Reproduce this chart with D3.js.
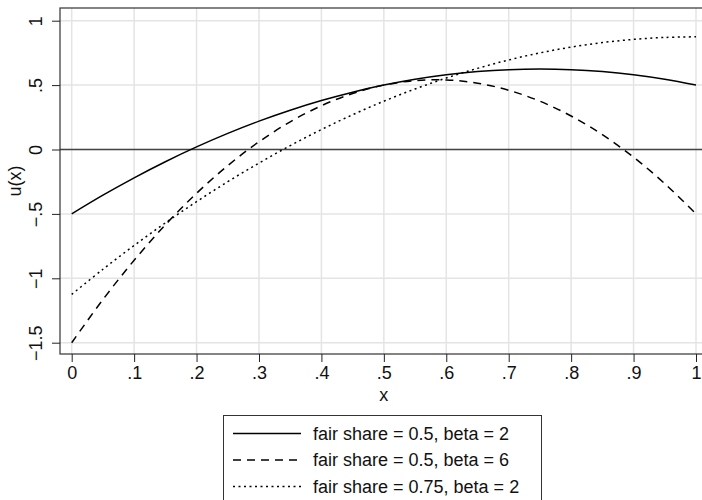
<!DOCTYPE html>
<html><head><meta charset="utf-8">
<script src="https://cdn.jsdelivr.net/npm/d3@7"></script>
<style>body{margin:0;background:#fff}svg{display:block;font-family:"Liberation Sans",Arial,sans-serif}</style>
</head><body><svg id="c" width="702" height="500"></svg>
<script>
const xValues = [0,0.05,0.1,0.15,0.2,0.25,0.3,0.35,0.4,0.45,0.5,0.55,0.6,0.65,0.7,0.75,0.8,0.85,0.9,0.95,1];
const seriesNames = ["fair share = 0.5, beta = 2","fair share = 0.5, beta = 6","fair share = 0.75, beta = 2"];
const uShare05Beta2 = [-0.5,-0.355,-0.22,-0.095,0.02,0.125,0.22,0.305,0.38,0.445,0.5,0.545,0.58,0.605,0.62,0.625,0.62,0.605,0.58,0.545,0.5];
const uShare05Beta6 = [-1.5,-1.165,-0.86,-0.585,-0.34,-0.125,0.06,0.215,0.34,0.435,0.5,0.535,0.54,0.515,0.46,0.375,0.26,0.115,-0.06,-0.265,-0.5];
const uShare075Beta2 = [-1.125,-0.93,-0.745,-0.57,-0.405,-0.25,-0.105,0.03,0.155,0.27,0.375,0.47,0.555,0.63,0.695,0.75,0.795,0.83,0.855,0.87,0.875];
const xTicks = [0,0.1,0.2,0.3,0.4,0.5,0.6,0.7,0.8,0.9,1];
const xTickLabels = ["0",".1",".2",".3",".4",".5",".6",".7",".8",".9","1"];
const yTicks = [-1.5,-1,-0.5,0,0.5,1];
const yTickLabels = ["\u22121.5","\u22121","\u2212.5","0",".5","1"];

const FS = 18;
const svg = d3.select("#c");
const frame = {l:60, t:8, r:708, b:354};
const x = d3.scaleLinear().domain([0,1]).range([71.7,696]);
const y = d3.scaleLinear().domain([-1.5,1]).range([342.7,20.7]);

// grid
const g = svg.append("g");
g.selectAll(".gx").data(xTicks).join("line")
  .attr("x1",d=>x(d)).attr("x2",d=>x(d)).attr("y1",frame.t).attr("y2",frame.b)
  .attr("stroke","#e4e4e4").attr("stroke-width",1.5);
g.selectAll(".gy").data(yTicks).join("line")
  .attr("y1",d=>y(d)).attr("y2",d=>y(d)).attr("x1",frame.l).attr("x2",frame.r)
  .attr("stroke","#e4e4e4").attr("stroke-width",1.5);
// zero line
g.append("line").attr("x1",frame.l).attr("x2",frame.r).attr("y1",y(0)).attr("y2",y(0))
  .attr("stroke","#444").attr("stroke-width",1.3);

// frame
svg.append("rect").attr("x",frame.l).attr("y",frame.t).attr("width",frame.r-frame.l).attr("height",frame.b-frame.t)
  .attr("fill","none").attr("stroke","#333").attr("stroke-width",1.2);

// axes
const xAxis = d3.axisBottom(x).tickValues(xTicks).tickFormat((d,i)=>xTickLabels[i]).tickSize(8).tickSizeOuter(0);
const xa = svg.append("g").attr("transform",`translate(0,${frame.b})`).call(xAxis);
xa.select(".domain").remove();
xa.selectAll("line").attr("stroke","#222");
xa.selectAll("text").attr("font-size",FS).attr("fill","#111").attr("font-family","Liberation Sans, Arial, sans-serif")
  .attr("y",19).attr("dy",null).attr("dominant-baseline","central");

const yAxis = d3.axisLeft(y).tickValues(yTicks).tickFormat((d,i)=>yTickLabels[i]).tickSize(8).tickSizeOuter(0);
const ya = svg.append("g").attr("transform",`translate(${frame.l},0)`).call(yAxis);
ya.select(".domain").remove();
ya.selectAll("line").attr("stroke","#222");
ya.selectAll("text").attr("font-size",FS).attr("fill","#111").attr("font-family","Liberation Sans, Arial, sans-serif")
  .attr("x",null).attr("dy",null).attr("text-anchor","middle")
  .attr("transform","translate(-24.5,0) rotate(-90)").attr("dominant-baseline","central");

// axis titles
svg.append("text").attr("x",(x(0)+x(1))/2).attr("y",395).attr("text-anchor","middle").attr("dominant-baseline","central")
  .attr("font-size",FS).attr("fill","#111").text("x");
svg.append("text").attr("transform",`translate(15,${(frame.t+frame.b)/2}) rotate(-90)`)
  .attr("text-anchor","middle").attr("dominant-baseline","central").attr("font-size",FS).attr("fill","#111").text("u(x)");

// lines
const dashes = [null,"8,6","2,3.5"];
const seriesData = [uShare05Beta2,uShare05Beta6,uShare075Beta2];
const line = d3.line().x(d=>x(d[0])).y(d=>y(d[1])).curve(d3.curveCatmullRom);
seriesData.forEach((s,i)=>{
  svg.append("path").datum(xValues.map((xv,j)=>[xv,s[j]]))
    .attr("d",line).attr("fill","none").attr("stroke","#000").attr("stroke-width",1.5)
    .attr("stroke-dasharray",dashes[i]);
});

// legend
const lg = svg.append("g");
lg.append("rect").attr("x",223.5).attr("y",415.5).attr("width",318).attr("height",100)
  .attr("fill","#fff").attr("stroke","#333").attr("stroke-width",1);
seriesNames.forEach((n,i)=>{
  const yy = 433.5 + i*26.5;
  lg.append("line").attr("x1",233).attr("x2",301).attr("y1",yy).attr("y2",yy)
    .attr("stroke","#000").attr("stroke-width",1.5).attr("stroke-dasharray",dashes[i]);
  lg.append("text").attr("x",313).attr("y",yy).attr("dominant-baseline","central")
    .attr("font-size",FS).attr("fill","#111").text(n);
});
</script></body></html>
